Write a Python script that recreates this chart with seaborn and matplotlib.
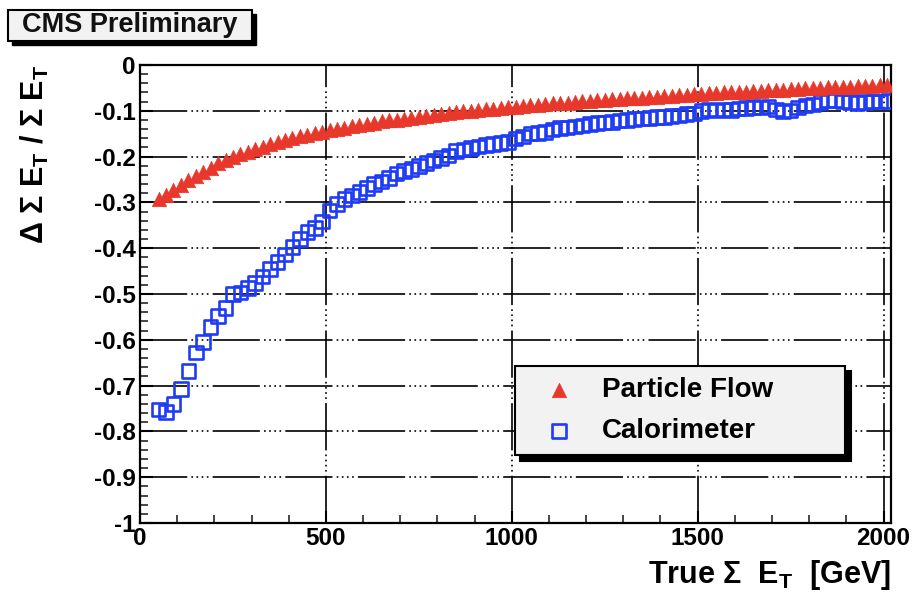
import numpy as np
import pandas as pd
import seaborn as sns
import matplotlib
matplotlib.use("Agg")
import matplotlib.pyplot as plt
from matplotlib.patches import Rectangle
from matplotlib.ticker import MultipleLocator

# ---- data ----
sum_et = [50, 70, 90, 110, 130, 150, 170, 190, 210, 230, 250, 270, 290, 310, 330, 350, 370, 390,
          410, 430, 450, 470, 490, 510, 530, 550, 570, 590, 610, 630, 650, 670, 690, 710, 730, 750,
          770, 790, 810, 830, 850, 870, 890, 910, 930, 950, 970, 990, 1010, 1030, 1050, 1070, 1090,
          1110, 1130, 1150, 1170, 1190, 1210, 1230, 1250, 1270, 1290, 1310, 1330, 1350, 1370, 1390,
          1410, 1430, 1450, 1470, 1490, 1510, 1530, 1550, 1570, 1590, 1610, 1630, 1650, 1670, 1690,
          1710, 1730, 1750, 1770, 1790, 1810, 1830, 1850, 1870, 1890, 1910, 1930, 1950, 1970, 1990,
          2010]

particle_flow = [-0.292, -0.283, -0.272, -0.262, -0.252, -0.243, -0.233, -0.224, -0.215, -0.208,
                 -0.201, -0.195, -0.189, -0.183, -0.178, -0.173, -0.168, -0.164, -0.160, -0.156,
                 -0.152, -0.149, -0.146, -0.143, -0.140, -0.137, -0.134, -0.131, -0.128, -0.126,
                 -0.123, -0.121, -0.119, -0.117, -0.115, -0.113, -0.111, -0.109, -0.107, -0.105,
                 -0.103, -0.101, -0.100, -0.098, -0.097, -0.095, -0.094, -0.092, -0.091, -0.089,
                 -0.088, -0.087, -0.085, -0.084, -0.083, -0.082, -0.080, -0.079, -0.078, -0.077,
                 -0.076, -0.075, -0.074, -0.073, -0.072, -0.071, -0.070, -0.069, -0.068, -0.067,
                 -0.066, -0.065, -0.064, -0.063, -0.062, -0.061, -0.060, -0.059, -0.058, -0.058,
                 -0.057, -0.056, -0.055, -0.054, -0.054, -0.053, -0.052, -0.051, -0.051, -0.050,
                 -0.049, -0.048, -0.048, -0.047, -0.046, -0.046, -0.045, -0.044, -0.043]

calorimeter = [-0.752, -0.758, -0.740, -0.708, -0.668, -0.628, -0.605, -0.572, -0.548, -0.530,
               -0.500, -0.497, -0.487, -0.476, -0.462, -0.446, -0.430, -0.414, -0.397, -0.380,
               -0.365, -0.356, -0.342, -0.318, -0.303, -0.292, -0.285, -0.277, -0.268, -0.260,
               -0.254, -0.247, -0.237, -0.231, -0.227, -0.221, -0.214, -0.209, -0.203, -0.198,
               -0.188, -0.184, -0.181, -0.178, -0.175, -0.172, -0.170, -0.168, -0.160, -0.156,
               -0.150, -0.148, -0.146, -0.141, -0.138, -0.136, -0.134, -0.132, -0.129, -0.127,
               -0.126, -0.124, -0.121, -0.120, -0.118, -0.117, -0.116, -0.114, -0.113, -0.111,
               -0.110, -0.107, -0.106, -0.100, -0.097, -0.099, -0.097, -0.098, -0.095, -0.094,
               -0.092, -0.093, -0.091, -0.097, -0.102, -0.099, -0.093, -0.088, -0.086, -0.081,
               -0.077, -0.078, -0.080, -0.081, -0.083, -0.081, -0.080, -0.080, -0.079]

x_ticks = [0, 500, 1000, 1500, 2000]
x_tick_labels = ["0", "500", "1000", "1500", "2000"]
y_ticks = [0, -0.1, -0.2, -0.3, -0.4, -0.5, -0.6, -0.7, -0.8, -0.9, -1.0]
y_tick_labels = ["0", "-0.1", "-0.2", "-0.3", "-0.4", "-0.5", "-0.6", "-0.7", "-0.8", "-0.9", "-1"]

series_names = ["Particle Flow", "Calorimeter"]

# ---- style ----
sns.set_theme(style="white")
plt.rcParams["font.family"] = ["Liberation Sans", "DejaVu Sans"]
plt.rcParams["font.weight"] = "bold"
plt.rcParams["axes.labelweight"] = "bold"
plt.rcParams["mathtext.fontset"] = "custom"
plt.rcParams["mathtext.rm"] = "Liberation Sans:bold"
plt.rcParams["mathtext.it"] = "Liberation Sans:bold"
plt.rcParams["mathtext.bf"] = "Liberation Sans:bold"
plt.rcParams["mathtext.default"] = "regular"
plt.rcParams["lines.scale_dashes"] = False

RED = "#e8372b"
BLUE = "#1f3cf5"

df = pd.DataFrame({"sum_et": sum_et, "pf": particle_flow, "calo": calorimeter})

fig = plt.figure(figsize=(9.13, 6.0), dpi=100)
ax = fig.add_axes([140 / 913, 1 - 523 / 600, 751 / 913, 458 / 600])

sns.scatterplot(data=df, x="sum_et", y="calo", marker="s", s=95, facecolors="none",
                edgecolor=BLUE, linewidth=1.9, label=series_names[1], ax=ax, zorder=3)
sns.scatterplot(data=df, x="sum_et", y="pf", marker="^", s=110, color=RED,
                edgecolor=RED, linewidth=0.4, label=series_names[0], ax=ax, zorder=4)

ax.set_xlim(0, 2020)
ax.set_ylim(-1, 0)
ax.set_xticks(x_ticks)
ax.set_xticklabels(x_tick_labels)
ax.set_yticks(y_ticks)
ax.set_yticklabels(y_tick_labels)
ax.xaxis.set_minor_locator(MultipleLocator(100))
ax.yaxis.set_minor_locator(MultipleLocator(0.02))

ax.tick_params(which="major", direction="in", length=9, width=1.5, left=True, bottom=True,
               right=False, top=False, labelsize=17.5, pad=3, colors="black")
ax.tick_params(which="minor", direction="in", length=6, width=1.2, left=True, bottom=True,
               right=False, top=False)

for sp in ax.spines.values():
    sp.set_color("black")
    sp.set_linewidth(1.6)

ax.grid(True, which="major", color="black", linewidth=1.2,
        linestyle=(0, (34, 3, 1.2, 2.5, 1.2, 2.5, 1.2, 2.5, 1.2, 3)))
ax.set_axisbelow(True)

ax.set_xlabel("True Σ  E$_T$  [GeV]", loc="right", fontsize=22, labelpad=6, color="black")
ax.set_ylabel("Δ Σ E$_T$ / Σ E$_T$", loc="top", fontsize=22, color="black")
ax.yaxis.set_label_coords(-0.118, 1.0)

# legend
handles, labels = ax.get_legend_handles_labels()
order = [labels.index(n) for n in series_names]
leg = ax.legend([handles[i] for i in order], [labels[i] for i in order],
                loc="lower left", bbox_to_anchor=(0.499, 0.148, 0.44, 0.19), mode="expand",
                fontsize=20, frameon=True, fancybox=False, framealpha=1,
                facecolor="#f2f2f2", edgecolor="black", borderpad=0.4, labelspacing=0.55,
                handlelength=2.4, handletextpad=0.35, borderaxespad=0,
                shadow={"ox": 4, "oy": -4, "facecolor": "black", "edgecolor": "black", "alpha": 1})
leg.get_frame().set_linewidth(1.5)
for t in leg.get_texts():
    t.set_color("black")

# CMS Preliminary label box with shadow
bx, by, bw, bh = 8 / 913, 1 - 41 / 600, 244 / 913, 31 / 600
fig.patches.append(Rectangle((bx + 4 / 913, by - 4 / 600), bw, bh, transform=fig.transFigure,
                             facecolor="black", edgecolor="black", zorder=1))
fig.patches.append(Rectangle((bx, by), bw, bh, transform=fig.transFigure,
                             facecolor="#f2f2f2", edgecolor="black", linewidth=1.5, zorder=2))
fig.text(bx + bw / 2, by + bh / 2, "CMS Preliminary", ha="center", va="center",
         fontsize=19.5, fontweight="bold", color="#111111", zorder=3)

fig.savefig("out.png", dpi=100)
